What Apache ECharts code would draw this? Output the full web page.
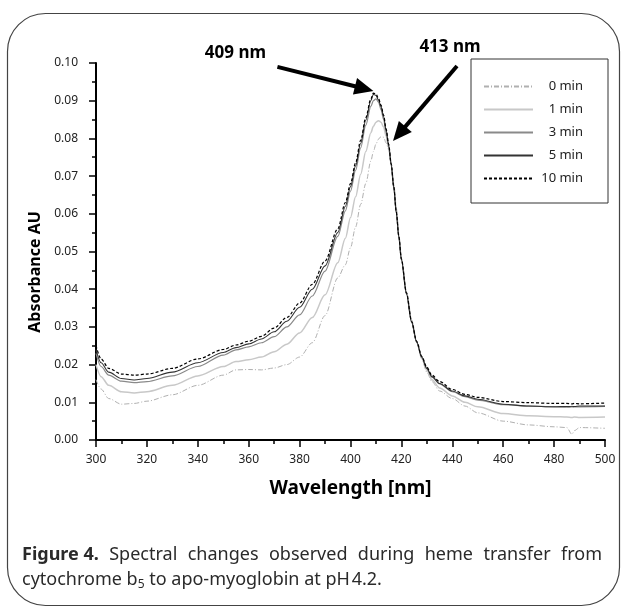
<!DOCTYPE html>
<html><head><meta charset="utf-8">
<script src="https://cdn.jsdelivr.net/npm/echarts@6/dist/echarts.min.js"></script>
<style>html,body{margin:0;padding:0;background:#fff}#c{width:621px;height:609px}</style>
</head><body><div id="c"></div>
<script>
// ---- data ----
const wavelengths = [300,302,305,310,315,320,330,340,350,355,360,365,370,375,380,385,390,395,398,400,402,404,406,408,409,410,411,412,413,414,415,416,417,418,419,420,422,424,426,428,430,432,435,440,445,450,460,470,480,485,487,488,490,500];
const abs0min = [0.0160,0.0135,0.0110,0.0095,0.0097,0.0103,0.0120,0.0145,0.0172,0.0186,0.0187,0.0186,0.0191,0.0200,0.0220,0.0258,0.0330,0.0430,0.0465,0.0510,0.0565,0.0625,0.0680,0.0740,0.0765,0.0785,0.0798,0.0805,0.0803,0.0788,0.0770,0.0735,0.0680,0.0615,0.0545,0.0482,0.0393,0.0318,0.0258,0.0215,0.0180,0.0155,0.0130,0.0110,0.0090,0.0072,0.0050,0.0040,0.0035,0.0033,0.0015,0.0025,0.0033,0.0031];
const abs1min = [0.0200,0.0168,0.0145,0.0128,0.0125,0.0128,0.0145,0.0170,0.0195,0.0208,0.0213,0.0220,0.0234,0.0254,0.0284,0.0325,0.0385,0.0470,0.0535,0.0590,0.0645,0.0705,0.0765,0.0815,0.0832,0.0843,0.0847,0.0843,0.0830,0.0806,0.0776,0.0734,0.0676,0.0611,0.0542,0.0480,0.0392,0.0318,0.0260,0.0218,0.0185,0.0160,0.0138,0.0117,0.0100,0.0088,0.0070,0.0064,0.0062,0.0061,0.0060,0.0061,0.0060,0.0061];
const abs3min = [0.0230,0.0195,0.0172,0.0156,0.0152,0.0155,0.0170,0.0195,0.0225,0.0239,0.0247,0.0258,0.0274,0.0300,0.0332,0.0382,0.0448,0.0540,0.0608,0.0660,0.0715,0.0775,0.0835,0.0885,0.0900,0.0905,0.0896,0.0876,0.0850,0.0815,0.0778,0.0728,0.0668,0.0602,0.0537,0.0477,0.0387,0.0312,0.0259,0.0219,0.0189,0.0167,0.0149,0.0128,0.0115,0.0106,0.0094,0.0090,0.0088,0.0087,0.0089,0.0088,0.0088,0.0089];
const abs5min = [0.0240,0.0205,0.0180,0.0163,0.0159,0.0163,0.0180,0.0205,0.0232,0.0245,0.0255,0.0268,0.0287,0.0315,0.0352,0.0400,0.0462,0.0550,0.0620,0.0672,0.0727,0.0787,0.0848,0.0900,0.0917,0.0914,0.0902,0.0884,0.0858,0.0822,0.0782,0.0730,0.0670,0.0603,0.0538,0.0478,0.0388,0.0313,0.0260,0.0220,0.0190,0.0168,0.0150,0.0130,0.0117,0.0108,0.0095,0.0090,0.0088,0.0089,0.0088,0.0089,0.0090,0.0090];
const abs10min = [0.0250,0.0215,0.0190,0.0175,0.0172,0.0175,0.0190,0.0215,0.0240,0.0252,0.0262,0.0275,0.0297,0.0325,0.0363,0.0413,0.0475,0.0560,0.0630,0.0680,0.0735,0.0795,0.0855,0.0905,0.0920,0.0918,0.0906,0.0888,0.0862,0.0825,0.0785,0.0732,0.0672,0.0605,0.0540,0.0480,0.0390,0.0315,0.0262,0.0222,0.0193,0.0172,0.0155,0.0134,0.0121,0.0113,0.0102,0.0099,0.0097,0.0097,0.0096,0.0097,0.0096,0.0098];
const seriesNames = ['0 min','1 min','3 min','5 min','10 min'];
const seriesValues = [abs0min, abs1min, abs3min, abs5min, abs10min];
const xAxisName = 'Wavelength [nm]';
const yAxisName = 'Absorbance AU';
const peakLabels = ['409 nm', '413 nm'];
const peakPoints = [[409, 0.0926], [416.7, 0.0793]];
const captionBold = 'Figure 4.';
const captionLine1 = ['Spectral','changes','observed','during','heme','transfer','from'];
const captionLine2a = 'cytochrome b';
const captionSub = '5';
const captionLine2b = ' to apo-myoglobin at pH\u200A4.2.';

// ---- styling ----
const FONT = '"Noto Sans", "Open Sans", sans-serif';
const lineStyles = [
  {color:'#b0b0b0', width:1, type:[5,2,1,2]},
  {color:'#c8c8c8', width:1.5, type:'solid'},
  {color:'#8a8a8a', width:1.2, type:'solid'},
  {color:'#333333', width:1.1, type:'solid'},
  {color:'#000000', width:1.2, type:[3,2]}
];

const chart = echarts.init(document.getElementById('c'), null, {renderer:'canvas'});
const series = seriesNames.map((name, k) => ({
  name, type:'line', symbol:'none', smooth:0.3, smoothMonotone:'x',
  lineStyle: lineStyles[k], itemStyle:{color: lineStyles[k].color},
  data: wavelengths.map((w, i) => [w, seriesValues[k][i]]),
  z: 2 + k
}));

const axisCommon = {
  axisLine:{show:true, onZero:false, lineStyle:{color:'#000', width:2}},
  axisTick:{show:true, inside:false, length:7, lineStyle:{color:'#000', width:1.5}},
  minorTick:{show:true, splitNumber:2, length:4, lineStyle:{color:'#000', width:1.5}},
  splitLine:{show:false},
  axisLabel:{color:'#222', fontSize:12, fontFamily:FONT}
};

chart.setOption({
  animation:false,
  backgroundColor:'#fff',
  grid:{left:96, right:16, top:63, bottom:169},
  xAxis:Object.assign({}, axisCommon, {
    type:'value', min:300, max:500, interval:20,
    axisLabel:Object.assign({}, axisCommon.axisLabel, {margin:14}),
    name:xAxisName, nameLocation:'middle', nameGap:39,
    nameTextStyle:{fontSize:19, fontWeight:'bold', fontFamily:FONT, color:'#000'}
  }),
  yAxis:Object.assign({}, axisCommon, {
    type:'value', min:0, max:0.1, interval:0.01,
    axisLabel:Object.assign({}, axisCommon.axisLabel, {margin:18, formatter:v => v.toFixed(2)})
  }),
  legend:{
    orient:'vertical', left:471, top:59,
    padding:[21,25,18,12], itemWidth:49, itemHeight:14, itemGap:10,
    borderColor:'#333', borderWidth:1, backgroundColor:'#fff',
    itemStyle:{opacity:0},
    data:seriesNames,
    formatter:n => '{t|' + n + '}',
    textStyle:{rich:{t:{width:45, align:'right', fontSize:13, fontFamily:FONT, color:'#222'}}}
  },
  series
});

// ---- annotations, border, caption ----
function arrow(x1, y1, x2, y2) {
  const dx = x2 - x1, dy = y2 - y1, L = Math.hypot(dx, dy);
  const ux = dx / L, uy = dy / L, hl = 19, hw = 8.5;
  const bx = x2 - ux * hl, by = y2 - uy * hl;
  return [
    {type:'line', shape:{x1, y1, x2:bx + ux*2, y2:by + uy*2}, style:{stroke:'#000', lineWidth:4}},
    {type:'polygon', shape:{points:[[x2, y2], [bx - uy*hw, by + ux*hw], [bx + uy*hw, by - ux*hw]]}, style:{fill:'#000'}}
  ];
}
const t1 = chart.convertToPixel({gridIndex:0}, peakPoints[0]);
const t2 = chart.convertToPixel({gridIndex:0}, peakPoints[1]);
const ctx = document.createElement('canvas').getContext('2d');
const capSize = 18;
const capFont = capSize + 'px ' + FONT;
const capBold = 'bold ' + capSize + 'px ' + FONT;
const subFont = '12px ' + FONT;
ctx.font = capBold; const wBold = ctx.measureText(captionBold).width;
ctx.font = capFont;
const wWords = captionLine1.map(w => ctx.measureText(w).width);
const capL = 22, capR = 602, capY1 = 555, capY2 = 580;
const gap = (capR - capL - wBold - wWords.reduce((a,b)=>a+b,0)) / captionLine1.length;
const capColor = '#2a2a2a';
const capEls = [{type:'text', style:{text:captionBold, x:capL, y:capY1, font:capBold, fill:capColor, verticalAlign:'middle'}}];
let cx = capL + wBold + gap;
captionLine1.forEach((w, i) => {
  capEls.push({type:'text', style:{text:w, x:cx, y:capY1, font:capFont, fill:capColor, verticalAlign:'middle'}});
  cx += wWords[i] + gap;
});
const w2a = ctx.measureText(captionLine2a).width;
ctx.font = subFont; const wSub = ctx.measureText(captionSub).width;
capEls.push({type:'text', style:{text:captionLine2a, x:capL, y:capY2, font:capFont, fill:capColor, verticalAlign:'middle'}});
capEls.push({type:'text', style:{text:captionSub, x:capL + w2a, y:capY2 + 5, font:subFont, fill:capColor, verticalAlign:'middle'}});
capEls.push({type:'text', style:{text:captionLine2b, x:capL + w2a + wSub, y:capY2, font:capFont, fill:capColor, verticalAlign:'middle'}});

chart.setOption({
  graphic:[
    {type:'rect', shape:{x:7.5, y:13.5, width:612, height:592, r:38}, style:{fill:null, stroke:'#444', lineWidth:1.2}, z:-1, silent:true},
    {type:'text', x:35, y:272, rotation:Math.PI/2, style:{text:yAxisName, x:0, y:0, font:'bold 16px ' + FONT, fill:'#000', align:'center', verticalAlign:'middle'}},
    {type:'text', style:{text:peakLabels[0], x:t1[0] - 138, y:t1[1] - 38, font:'bold 17px ' + FONT, fill:'#000', align:'center', verticalAlign:'middle'}},
    {type:'text', style:{text:peakLabels[1], x:t2[0] + 57, y:t2[1] - 94, font:'bold 17px ' + FONT, fill:'#000', align:'center', verticalAlign:'middle'}},
    ...arrow(t1[0] - 96, t1[1] - 24, t1[0], t1[1]),
    ...arrow(t2[0] + 64, t2[1] - 75, t2[0], t2[1]),
    ...capEls
  ]
});
</script></body></html>
